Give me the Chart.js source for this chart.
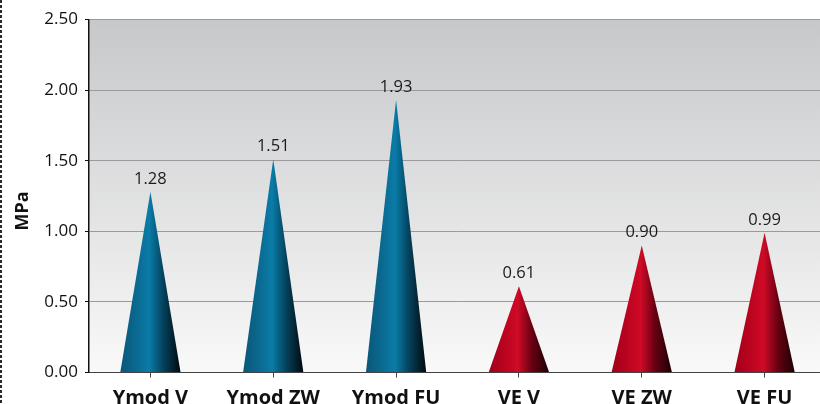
<!DOCTYPE html>
<html>
<head>
<meta charset="utf-8">
<script src="https://cdn.jsdelivr.net/npm/chart.js@4/dist/chart.umd.min.js"></script>
<style>
  html, body { margin: 0; padding: 0; background: #fff; overflow: hidden; width: 820px; height: 404px; }
  #wrap { position: relative; width: 820px; height: 404px; overflow: hidden; }
  canvas { display: block; }
</style>
</head>
<body>
<div id="wrap"><canvas id="c" width="826" height="404"></canvas></div>
<script>
// Modulus values per specimen, in MPa
const categories = ['Ymod V', 'Ymod ZW', 'Ymod FU', 'VE V', 'VE ZW', 'VE FU'];
const values = [1.28, 1.51, 1.93, 0.61, 0.90, 0.99];
const groups = ['Ymod', 'Ymod', 'Ymod', 'VE', 'VE', 'VE'];
const yTicks = [0, 0.5, 1.0, 1.5, 2.0, 2.5];
const axisTitle = 'MPa';

// Horizontal shading of the cones, per group
const coneShades = {
  Ymod: [[0, '#0a5779'], [0.22, '#0a668c'], [0.48, '#0a7ca8'], [0.72, '#05405a'], [1, '#02090e']],
  VE:   [[0, '#a0001a'], [0.22, '#b6031f'], [0.48, '#cf0a26'], [0.72, '#680012'], [1, '#1a0004']]
};

const FONT = '"Open Sans", "DejaVu Sans", sans-serif';

// Plot background, dashed frame line at the far left
const backdrop = {
  id: 'backdrop',
  beforeDraw(chart) {
    const { ctx, chartArea: a } = chart;
    ctx.save();
    const g = ctx.createLinearGradient(0, a.top, 0, a.bottom);
    g.addColorStop(0, '#c7c8ca');
    g.addColorStop(1, '#f9f9f9');
    ctx.fillStyle = g;
    ctx.fillRect(a.left, a.top, a.right - a.left, a.bottom - a.top);
    ctx.strokeStyle = '#2a2a2a';
    ctx.lineWidth = 2;
    ctx.setLineDash([3, 2]);
    ctx.beginPath();
    ctx.moveTo(1, 0);
    ctx.lineTo(1, chart.height);
    ctx.stroke();
    ctx.restore();
  }
};

// Each bar is rendered as a shaded cone from its own element geometry
const cones = {
  id: 'cones',
  afterDatasetsDraw(chart) {
    const { ctx } = chart;
    const meta = chart.getDatasetMeta(0);
    ctx.save();
    meta.data.forEach((el, i) => {
      const { x, y, base, width } = el.getProps(['x', 'y', 'base', 'width'], true);
      const half = width / 2;
      const g = ctx.createLinearGradient(x - half, 0, x + half, 0);
      coneShades[groups[i]].forEach(([o, c]) => g.addColorStop(o, c));
      ctx.fillStyle = g;
      ctx.beginPath();
      ctx.moveTo(x - half, base);
      ctx.lineTo(x, y);
      ctx.lineTo(x + half, base);
      ctx.closePath();
      ctx.fill();

      ctx.fillStyle = '#1a1a1a';
      ctx.font = '16.5px ' + FONT;
      ctx.textAlign = 'center';
      ctx.textBaseline = 'alphabetic';
      ctx.fillText(values[i].toFixed(2), x, y - 8);
    });
    ctx.restore();
  }
};

// Rotated y-axis title
const yTitle = {
  id: 'yTitle',
  afterDraw(chart) {
    const { ctx } = chart;
    ctx.save();
    ctx.translate(22.5, 211);
    ctx.rotate(-Math.PI / 2);
    ctx.fillStyle = '#111';
    ctx.font = 'bold 18px ' + FONT;
    ctx.textAlign = 'center';
    ctx.textBaseline = 'middle';
    ctx.fillText(axisTitle, 0, 0);
    ctx.restore();
  }
};

new Chart(document.getElementById('c'), {
  type: 'bar',
  data: {
    labels: categories,
    datasets: [{
      data: values,
      backgroundColor: 'rgba(0,0,0,0)',
      borderWidth: 0,
      categoryPercentage: 1,
      barPercentage: 0.49
    }]
  },
  options: {
    responsive: false,
    devicePixelRatio: 1,
    animation: false,
    layout: { padding: { top: 19.5, right: 0, bottom: 0, left: 0 } },
    plugins: { legend: { display: false }, tooltip: { enabled: false } },
    scales: {
      x: {
        offset: true,
        afterFit(scale) { scale.height = 31.5; },
        grid: { display: true, offset: false, drawOnChartArea: false, drawTicks: true, tickLength: 5, tickColor: '#444' },
        border: { display: true, color: '#444', width: 1 },
        ticks: { color: '#111', padding: 9, font: { family: FONT, size: 20, weight: 'bold' } }
      },
      y: {
        min: yTicks[0],
        max: yTicks[yTicks.length - 1],
        afterFit(scale) { scale.width = 89; },
        afterBuildTicks(scale) { scale.ticks = yTicks.map(v => ({ value: v })); },
        grid: { color: '#9a9a9a', lineWidth: 1, tickLength: 4, tickColor: '#111' },
        border: { display: true, color: '#111', width: 1.5 },
        ticks: {
          color: '#111',
          padding: 7,
          font: { family: FONT, size: 17 },
          callback: v => Number(v).toFixed(2)
        }
      }
    }
  },
  plugins: [backdrop, cones, yTitle]
});
</script>
</body>
</html>
